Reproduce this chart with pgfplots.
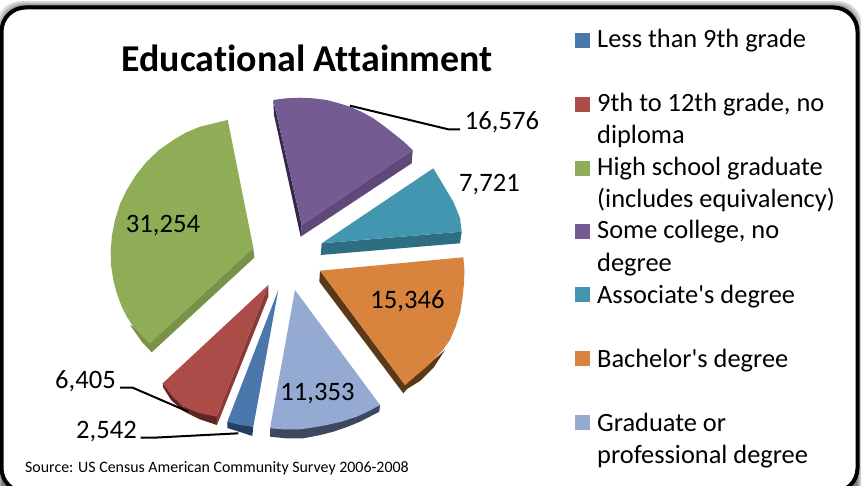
\documentclass[border=0pt]{standalone}
\usepackage{fontspec}
\usepackage{pgfplots}
\pgfplotsset{compat=1.18}
\setmainfont{Carlito}[Ligatures={NoCommon,TeXOff}]
\definecolor{blueF}{RGB}{74,120,172}
\definecolor{blueS}{RGB}{36,62,100}
\definecolor{redF}{RGB}{172,76,72}
\definecolor{redS}{RGB}{98,36,34}
\definecolor{greenF}{RGB}{143,172,87}
\definecolor{greenS}{RGB}{121,146,72}
\definecolor{purpF}{RGB}{116,91,146}
\definecolor{purpS}{RGB}{95,73,121}
\definecolor{purpE}{RGB}{52,42,72}
\definecolor{tealF}{RGB}{66,150,175}
\definecolor{tealS}{RGB}{46,110,130}
\definecolor{orF}{RGB}{216,131,62}
\definecolor{orS}{RGB}{92,56,22}
\definecolor{ltF}{RGB}{148,170,210}
\definecolor{ltS}{RGB}{60,72,94}
\newcommand{\lbl}[3]{\node[anchor=base,inner sep=0pt] at (axis cs:#1,#2) {\fontsize{26.6}{27}\selectfont #3};}
\newcommand{\leg}[2]{\node[anchor=base west,inner sep=0pt] at (axis cs:597,#1) {\fontsize{26.4}{27}\selectfont #2};}
\begin{document}
\begin{tikzpicture}
\useasboundingbox (0,0) rectangle (861pt,486pt);
\begin{axis}[
  at={(0,0)},anchor=south west,
  width=861pt,height=486pt,scale only axis,
  xmin=0,xmax=861,ymin=0,ymax=486,y dir=reverse,
  axis lines=none,no markers]
% soft shadow along the top of the frame
\foreach \o/\c in {5/12,4/18,3/26,2/34,1/44,0/52}{
  \edef\tmp{\noexpand\fill[black!\c,rounded corners=24pt] (axis cs:{2-\o},{6-\o}) rectangle (axis cs:{857+\o},520);}
  \tmp
}
\draw[black,fill=white,line width=4pt,rounded corners=24pt] (axis cs:1.5,7.5) rectangle (axis cs:857.5,492);

% Bachelor's degree
\addplot[fill=orS,draw=none] coordinates {(320,270.7)(319.3,281.7)(403.3,393.3)(407,389)(420,381)(434,367)(445,350)(405,385)} --cycle;
\addplot[fill=orF,draw=none] coordinates {(320,270.7)(463.3,257.3)(464.5,270)(464,283.3)(462.5,298)(460,313.3)(455.5,327)(450,340)(442,351)(433.3,360)(425,368)(416.7,375)(405,385)} --cycle;
% Associate's degree
\addplot[fill=tealS,draw=none] coordinates {(321.7,243.3)(320.7,255)(460,243.3)(461.7,231.7)} --cycle;
\addplot[fill=tealF,draw=none] coordinates {(321.7,243.3)(433.3,168.3)(443.3,185)(453.3,201.7)(458,213)(460,218.3)(461.7,231.7)} --cycle;
% Some college, no degree
\addplot[fill=purpE,draw=none] coordinates {(273.3,100)(301.7,225)(300.7,236.7)(274,115)} --cycle;
\addplot[fill=purpS,draw=none] coordinates {(301.7,225)(300.7,236.7)(411.7,163.3)(412.7,150)} --cycle;
\addplot[fill=purpF,draw=none] coordinates {(273.3,100)(286,98.3)(300,97.7)(313,98.3)(326.7,100)(338,103)(350,106.7)(362,112)(373.3,118.3)(384,126)(393.3,133.3)(403,141)(412.7,150)(301.7,225)} --cycle;
% High school graduate
\addplot[fill=greenS,draw=none] coordinates {(253.3,247.7)(254.3,257.7)(151.7,352.3)(142,342)(130,325)(133.3,326.7)(150,343)} --cycle;
\addplot[fill=greenF,draw=none] coordinates {(227.7,120)(200,126.7)(186,132.5)(173.3,140)(159,150)(146.7,161.7)(136,175)(126.7,190)(120,204)(115,220)(112,235)(110.7,250)(111,265)(113.3,280)(117,294)(121.7,306.7)(127,317)(133.3,326.7)(141,335)(150,343)(253.3,247.7)} --cycle;
% Graduate or professional degree
\addplot[fill=ltS,draw=none] coordinates {(270,428.3)(270,436.7)(286,438.3)(303.3,438.3)(318,435.5)(333.3,431.7)(347,427)(360,421.7)(379.3,411.7)(380,405)} --cycle;
\addplot[fill=ltF,draw=none] coordinates {(295,290)(380,405)(369,411)(356.7,416.7)(342,421.5)(326.7,425)(313,427.5)(300,429.3)(285,429.5)(270,428.3)} --cycle;
% 9th to 12th grade, no diploma
\addplot[fill=redS,draw=none] coordinates {(162.7,383.3)(163,387)(171,400)(183.3,411)(199,419)(216.7,425)(220,414)(183.3,406.7)} --cycle;
\addplot[fill=redS!45!redF,draw=none] coordinates {(268.3,285)(268.3,296.7)(219,420)(216.7,425)(216.7,416.7)} --cycle;
\addplot[fill=redF,draw=none] coordinates {(268.3,285)(162.7,383.3)(172,396)(183.3,406.7)(199,413)(216.7,416.7)} --cycle;
% Less than 9th grade
\addplot[fill=blueS,draw=none] coordinates {(227.3,421.7)(227.3,428)(240,432)(252.3,436)(253.3,426.7)} --cycle;
\addplot[fill=blueF,draw=none] coordinates {(278.3,290)(227.3,421.7)(240,425)(253.3,426.7)} --cycle;

% leader lines
\addplot[black,line width=2pt] coordinates {(350,105.7)(448.3,129.3)(460,129.3)};
\addplot[black,line width=2pt] coordinates {(120,387.7)(132.7,387.7)(188.3,411.7)};
\addplot[black,line width=2pt] coordinates {(140.7,437.7)(153.3,437.7)(238.3,433.3)};

% legend keys
\addplot[fill=blueF,draw=none] coordinates {(575,33)(590,33)(590,48)(575,48)} --cycle;
\addplot[fill=redF,draw=none] coordinates {(575,97)(590,97)(590,112)(575,112)} --cycle;
\addplot[fill=greenF,draw=none] coordinates {(575,161)(590,161)(590,176)(575,176)} --cycle;
\addplot[fill=purpF,draw=none] coordinates {(575,224)(590,224)(590,239)(575,239)} --cycle;
\addplot[fill=tealF,draw=none] coordinates {(575,287)(590,287)(590,302)(575,302)} --cycle;
\addplot[fill=orF,draw=none] coordinates {(575,351)(590,351)(590,366)(575,366)} --cycle;
\addplot[fill=ltF,draw=none] coordinates {(575,415)(590,415)(590,430)(575,430)} --cycle;

\node[anchor=base,inner sep=0pt] at (axis cs:307,72) {\fontsize{37.9}{38}\selectfont\bfseries Educational Attainment};
\lbl{502}{130}{16,576}
\lbl{489.5}{192}{7,721}
\lbl{163}{233}{31,254}
\lbl{407.5}{308}{15,346}
\lbl{317.5}{400}{11,353}
\lbl{85.5}{388}{6,405}
\lbl{106.5}{438}{2,542}
\leg{48}{Less than 9th grade}
\leg{112}{9th to 12th grade, no}
\leg{144}{diploma}
\leg{176}{High school graduate}
\leg{208}{(includes equivalency)}
\leg{239}{Some college, no}
\leg{271}{degree}
\leg{303}{Associate's degree}
\leg{367}{Bachelor's degree}
\leg{431}{Graduate or}
\leg{463}{professional degree}
\node[anchor=base west,inner sep=0pt] at (axis cs:25,472) {\fontsize{15.9}{16}\selectfont Source: US Census American Community Survey 2006-2008};
\end{axis}
\end{tikzpicture}
\end{document}
